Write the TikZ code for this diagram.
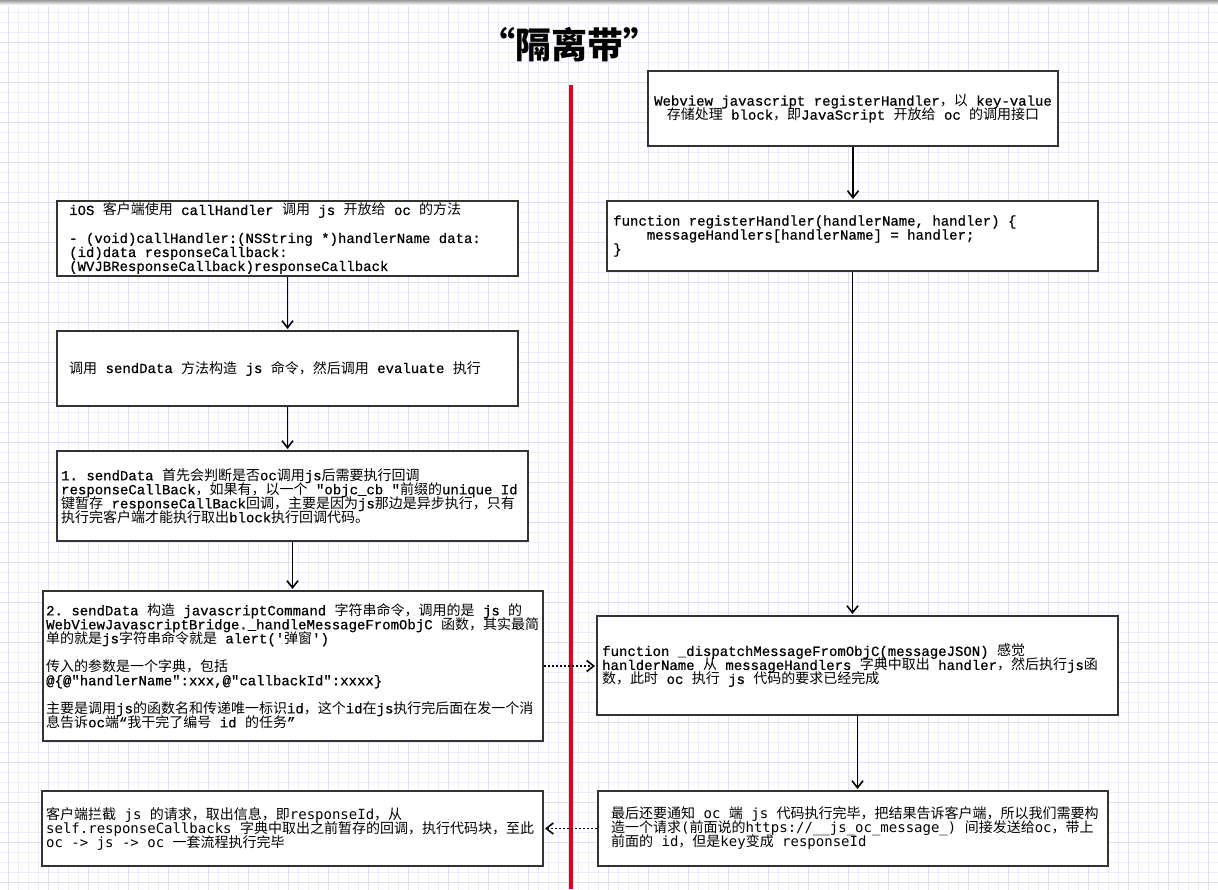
\documentclass[tikz,border=0pt]{standalone}
\usepackage{fontspec}
\setmainfont{Liberation Mono}
\setmonofont{Liberation Mono}[FakeBold=0.6]
\newfontfamily\cjk{Noto Sans CJK SC}
\newfontfamily\menlo{DejaVu Sans Mono}
\usetikzlibrary{positioning,arrows.meta}

\newcommand\cjkchar[1]{{\cjk\char#1\relax}}
\newcommand\setcjkrange[2]{%
  \count255=#1
  \loop
    \catcode\count255=13
    \lccode`\~=\count255
    \lowercase{\expandafter\gdef\expandafter~\expandafter{\expandafter\cjkchar\expandafter{\the\count255}}}%
  \ifnum\count255<#2 \advance\count255 by 1 \repeat}
\setcjkrange{"3000}{"303F}
\setcjkrange{"4E00}{"9FFF}
\setcjkrange{"FF00}{"FFEF}
\lineskiplimit=-20pt

\definecolor{gridminor}{RGB}{236,236,252}
\definecolor{gridmajor}{RGB}{222,222,248}
\definecolor{zonered}{RGB}{218,0,27}

\begin{document}
\begin{tikzpicture}[x=1pt,y=-1pt,
        box/.style={draw=black!80, line width=2pt, fill=white, inner sep=0pt},
        txt/.style={inner sep=0pt, align=left, font=\ttfamily\fontsize{14}{14}\selectfont},
        sanstxt/.style={txt, font=\menlo\fontsize{14}{14}\selectfont},
        flow/.style={line width=1.6pt, -{Straight Barb[length=7pt,width=11pt]}, shorten >=1pt},
        reply/.style={flow, dash pattern=on 2pt off 2pt}]
        \useasboundingbox (0,0) rectangle (1218,889);

        \begin{scope}
        \clip (0,0) rectangle (1218,889);
        \fill[white] (0,0) rectangle (1218,889);
        \draw[gridminor, line width=1pt, step=10pt, shift={(8,2)}] (-10,900) grid (1220,-10);
        \draw[gridmajor, line width=1pt, step=40pt, shift={(8,2)}] (-40,920) grid (1240,-40);
        \shade[top color=black!40, bottom color=white] (0,0) rectangle (1218,5);
        \end{scope}

        \node[font=\cjk\bfseries\fontsize{36}{40}\selectfont] (title) at (569,45) {“隔离带”};
        \draw[zonered, line width=4pt] (571,85) -- (571,889);

        \node[box, minimum width=461pt, minimum height=75pt] (callBox) at (287.5,238.5) {};
        \node[txt, right=13pt of callBox.west] (callText) {iOS 客户端使用 callHandler 调用 js 开放给 oc 的方法\\[14pt]
                - (void)callHandler:(NSString *)handlerName data:\\
                (id)data responseCallback:\\
                (WVJBResponseCallback)responseCallback};

        \node[box, minimum width=461pt, minimum height=75pt] (sendBox) at (287.5,368.5) {};
        \node[txt, right=13pt of sendBox.west] (sendText) {调用 sendData 方法构造 js 命令，然后调用 evaluate 执行};

        \node[box, minimum width=471pt, minimum height=90pt] (checkBox) at (292.5,496) {};
        \node[txt, right=5pt of checkBox.west] (checkText) {1. sendData 首先会判断是否oc调用js后需要执行回调\\
                responseCallBack，如果有，以一个 "objc\_cb "前缀的unique Id\\
                键暂存 responseCallBack回调，主要是因为js那边是异步执行，只有\\
                执行完客户端才能执行取出block执行回调代码。};

        \node[box, minimum width=500pt, minimum height=150pt] (cmdBox) at (293,666) {};
        \node[txt, right=4pt of cmdBox.west] (cmdText) {2. sendData 构造 javascriptCommand 字符串命令，调用的是 js 的\\
                WebViewJavascriptBridge.\_handleMessageFromObjC 函数，其实最简\\
                单的就是js字符串命令就是 alert('弹窗')\\[14pt]
                传入的参数是一个字典，包括\\
                @\{@"handlerName":xxx,@"callbackId":xxxx\}\\[14pt]
                主要是调用js的函数名和传递唯一标识id，这个id在js执行完后面在发一个消\\
                息告诉oc端“我干完了编号 id 的任务”};

        \node[box, minimum width=501pt, minimum height=75pt] (interceptBox) at (292.5,828.5) {};
        \node[sanstxt, right=5pt of interceptBox.west] (interceptText) {客户端拦截 js 的请求，取出信息，即responseId，从\\
                self.responseCallbacks 字典中取出之前暂存的回调，执行代码块，至此\\
                oc -> js -> oc 一套流程执行完毕};

        \node[box, minimum width=410pt, minimum height=75pt] (regBlock) at (853,108.5) {};
        \node[txt, align=center] (regBlockText) at (regBlock) {Webview javascript registerHandler，以 key-value\\
                存储处理 block，即JavaScript 开放给 oc 的调用接口};

        \node[box, minimum width=491pt, minimum height=70pt] (regFunc) at (852.5,236) {};
        \node[txt, right=7pt of regFunc.west] (regFuncText) {function registerHandler(handlerName, handler) \{\\
                \hphantom{xxxx}messageHandlers[handlerName] = handler;\\
                \}};

        \node[box, minimum width=521pt, minimum height=99pt] (dispatch) at (857.5,665.5) {};
        \node[txt, right=6pt of dispatch.west] (dispatchText) {function \_dispatchMessageFromObjC(messageJSON) 感觉\\
                hanlderName 从 messageHandlers 字典中取出 handler，然后执行js函\\
                数，此时 oc 执行 js 代码的要求已经完成};

        \node[box, minimum width=510pt, minimum height=75pt] (notify) at (853,828.5) {};
        \node[sanstxt, right=14pt of notify.west] (notifyText) {最后还要通知 oc 端 js 代码执行完毕，把结果告诉客户端，所以我们需要构\\
                造一个请求(前面说的https://\_\_js\_oc\_message\_) 间接发送给oc，带上\\
                前面的 id，但是key变成 responseId};

        \foreach \from/\to in {callBox/sendBox,sendBox/checkBox,checkBox/cmdBox,regBlock/regFunc,regFunc/dispatch,dispatch/notify} {
                \draw[flow] (\from.south) -- (\from.south |- \to.north);
        }
        \draw[reply] (cmdBox.east) -- (cmdBox.east -| dispatch.west);
        \draw[reply] (notify.west) -- (notify.west -| interceptBox.east);

\end{tikzpicture}
\end{document}
